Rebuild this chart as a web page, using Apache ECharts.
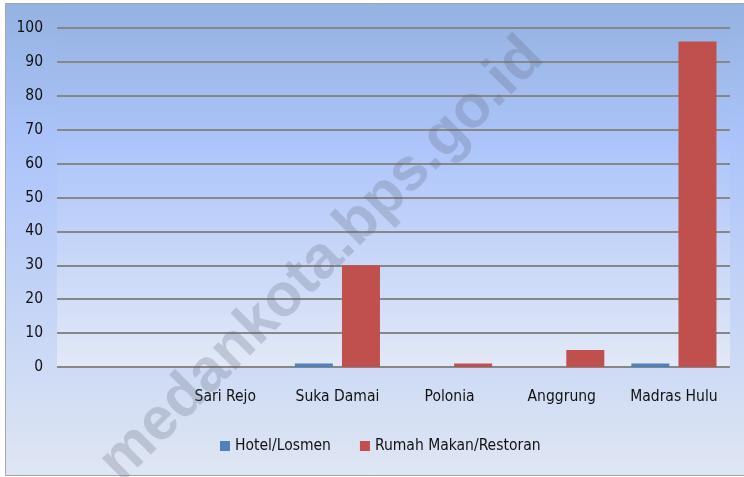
<!DOCTYPE html>
<html>
<head>
<meta charset="utf-8">
<script src="https://cdn.jsdelivr.net/npm/echarts@6/dist/echarts.min.js"></script>
<style>
  html, body { margin: 0; padding: 0; background: #fff; }
  #main { width: 744px; height: 477px; }
</style>
</head>
<body>
<div id="main"></div>
<script>
// data
const categories = ['', 'Sari Rejo', 'Suka Damai', 'Polonia', 'Anggrung', 'Madras Hulu'];
const hotel = [0, 0, 1, 0, 0, 1];
const restoran = [0, 0, 30, 1, 5, 96];
const seriesNames = ['Hotel/Losmen', 'Rumah Makan/Restoran'];

const font = '"Liberation Sans Narrow", "DejaVu Sans Condensed", sans-serif';

const chart = echarts.init(document.getElementById('main'));

const option = {
    backgroundColor: '#fff',
    animation: false,
    graphic: [
        {
            type: 'rect', z: -10, silent: true,
            shape: { x: 5.5, y: 3.5, width: 745, height: 472 },
            style: {
                fill: new echarts.graphic.LinearGradient(0, 0, 0, 1, [
                    { offset: 0, color: '#95b2e2' },
                    { offset: 0.3, color: '#acc4fa' },
                    { offset: 1, color: '#dfe6f3' }
                ]),
                stroke: '#a6a6a6', lineWidth: 1
            }
        },
        {
            // watermark
            type: 'text', z: 100, silent: true,
            x: 322, y: 260, rotation: Math.PI / 4,
            style: {
                text: 'medankota.bps.go.id',
                font: 'bold 60px "Liberation Sans", Arial, sans-serif',
                fill: 'rgba(90, 100, 120, 0.25)',
                align: 'center', verticalAlign: 'middle'
            }
        }
    ],
    legend: {
        data: seriesNames,
        left: 215, top: 433,
        itemWidth: 10, itemHeight: 10, itemGap: 29,
        icon: 'rect',
        textStyle: { fontFamily: font, fontSize: 15.5, color: '#111' }
    },
    grid: {
        left: 57, right: 14, top: 28, bottom: 110,
        show: true, borderWidth: 0,
        backgroundColor: new echarts.graphic.LinearGradient(0, 0, 0, 1, [
            { offset: 0, color: '#98b4e4' },
            { offset: 0.35, color: '#adc5fa' },
            { offset: 1, color: '#e2e9f6' }
        ])
    },
    xAxis: {
        type: 'category',
        data: categories,
        axisTick: { show: false },
        axisLine: { show: false },
        axisLabel: { fontFamily: font, fontSize: 15.5, color: '#111', margin: 22, interval: 0 }
    },
    yAxis: {
        type: 'value',
        min: 0, max: 100, interval: 10,
        axisLine: { show: false },
        axisTick: { show: false },
        axisLabel: { fontFamily: font, fontSize: 15.5, color: '#111', margin: 14 },
        splitLine: { lineStyle: { color: '#878787', width: 2 } }
    },
    series: [
        {
            name: seriesNames[0], type: 'bar', data: hotel,
            barWidth: 38, barGap: '24%',
            itemStyle: { color: '#4f81bd' }
        },
        {
            name: seriesNames[1], type: 'bar', data: restoran,
            barWidth: 38,
            itemStyle: { color: '#c0504d' }
        }
    ]
};

chart.setOption(option);
</script>
</body>
</html>
